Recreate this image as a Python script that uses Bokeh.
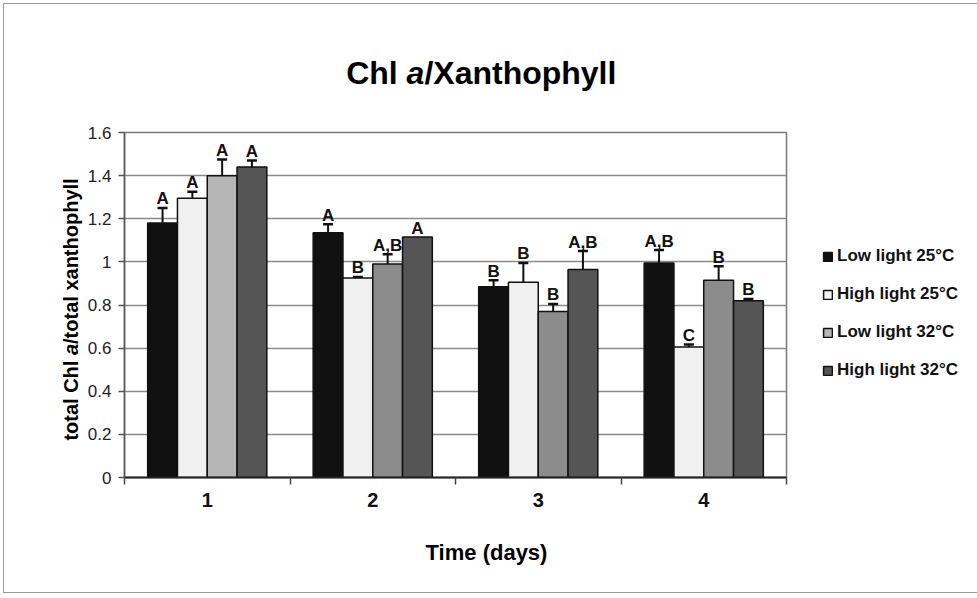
import numpy as np
from bokeh.plotting import figure
from bokeh.models import (ColumnDataSource, FixedTicker, NumeralTickFormatter, Whisker,
                          TeeHead, Label, Legend, LegendItem)
from bokeh.core.properties import value
from bokeh.embed import file_html
from bokeh.resources import INLINE

# ---------------- data ----------------
days = [1, 2, 3, 4]
day_labels = ["1", "2", "3", "4"]
series = ["Low light 25°C", "High light 25°C", "Low light 32°C", "High light 32°C"]

ll25 = [1.18, 1.135, 0.885, 0.995]
hl25 = [1.295, 0.925, 0.905, 0.605]
ll32 = [1.40, 0.99, 0.77, 0.915]
hl32 = [1.44, 1.115, 0.965, 0.82]

ll25_err = [0.07, 0.04, 0.03, 0.06]
hl25_err = [0.03, 0.005, 0.09, 0.012]
ll32_err = [0.075, 0.045, 0.035, 0.065]
hl32_err = [0.03, 0.0, 0.085, 0.008]

ll25_sig = ["A", "A", "B", "A,B"]
hl25_sig = ["A", "B", "B", "C"]
ll32_sig = ["A", "A,B", "B", "B"]
hl32_sig = ["A", "A", "A,B", "B"]

y_ticks = [0, 0.2, 0.4, 0.6, 0.8, 1.0, 1.2, 1.4, 1.6]

# ---------------- styling ----------------
FONT = "Liberation Sans"
colors = ["#111111", "#f0f0f0", "#8c8c8c", "#555555"]
bar_colors = [[c] * 4 for c in colors]
bar_colors[2][0] = "#b6b6b6"   # first Low light 32°C bar is lighter in the original
offsets = [-0.27, -0.09, 0.09, 0.27]
bar_w = 0.18

values = [ll25, hl25, ll32, hl32]
errs = [ll25_err, hl25_err, ll32_err, hl32_err]
sigs = [ll25_sig, hl25_sig, ll32_sig, hl32_sig]

FRAME_L, FRAME_B, FW, FH = 124, 477, 662, 345
p = figure(output_backend="svg", toolbar_location=None,
           frame_width=FW, frame_height=FH,
           min_border_left=120, min_border_right=186, min_border_top=128, min_border_bottom=115,
           x_range=(0.5, 4.5), y_range=(0, 1.6))
p.background_fill_color = "white"
p.border_fill_color = "white"
p.outline_line_color = "#7a7a7a"
p.outline_line_width = 1.5

# grid
p.xgrid.grid_line_color = None
p.ygrid.ticker = FixedTicker(ticks=y_ticks)
p.ygrid.grid_line_color = "#8a8a8a"
p.ygrid.grid_line_width = 1.5

# y axis
p.yaxis.ticker = FixedTicker(ticks=y_ticks)
p.yaxis.formatter = NumeralTickFormatter(format="0.[0]")
p.yaxis.major_label_text_font = FONT
p.yaxis.major_label_text_font_size = "17px"
p.yaxis.major_label_text_color = "#222222"
p.yaxis.major_tick_out = 6
p.yaxis.major_tick_in = 0
p.yaxis.minor_tick_line_color = None
p.yaxis.major_label_standoff = 7
p.yaxis.axis_line_color = "#555555"
p.yaxis.axis_line_width = 1.5
p.yaxis.major_tick_line_color = "#555555"
p.yaxis.major_tick_line_width = 1.5

# x axis: labels at day centres, ticks at group boundaries (minor ticks)
p.xaxis.ticker = FixedTicker(ticks=days, minor_ticks=[d - 0.5 for d in days] + [days[-1] + 0.5])
p.xaxis.major_label_overrides = {d: l for d, l in zip(days, day_labels)}
p.xaxis.major_tick_line_color = None
p.xaxis.major_tick_out = 0
p.xaxis.major_tick_in = 0
p.xaxis.minor_tick_out = 7
p.xaxis.minor_tick_in = 0
p.xaxis.minor_tick_line_color = "#444444"
p.xaxis.minor_tick_line_width = 1.5
p.xaxis.axis_line_color = "#222222"
p.xaxis.axis_line_width = 2
p.xaxis.major_label_text_font = FONT
p.xaxis.major_label_text_font_size = "20px"
p.xaxis.major_label_text_font_style = "bold"
p.xaxis.major_label_text_color = "#111111"
p.xaxis.major_label_standoff = 8

legend_items = []
for i in range(4):
    xs = [d + offsets[i] for d in days]
    src = ColumnDataSource(dict(x=xs, top=values[i], color=bar_colors[i],
                                upper=[v + e for v, e in zip(values[i], errs[i])],
                                sig=sigs[i]))
    r = p.vbar(x="x", top="top", width=bar_w, source=src, fill_color="color",
               line_color="#111111", line_width=1.5)
    legend_items.append(LegendItem(label=series[i], renderers=[r]))
    keep = [j for j in range(4) if errs[i][j] > 0]
    esrc = ColumnDataSource(dict(x=[xs[j] for j in keep],
                                 lower=[values[i][j] for j in keep],
                                 upper=[values[i][j] + errs[i][j] for j in keep]))
    w = Whisker(base="x", lower="lower", upper="upper", source=esrc,
                line_color="#111111", line_width=2,
                upper_head=TeeHead(size=10, line_color="#111111", line_width=2.5),
                lower_head=None)
    p.add_layout(w)
    p.text(x="x", y="upper", text="sig", source=src, text_align="center",
           text_baseline="alphabetic", y_offset=-9,
           text_font=value(FONT), text_font_size="17px", text_font_style="bold",
           text_color="#111111")

legend = Legend(items=legend_items, location=(36, 97), orientation="vertical",
                background_fill_alpha=0, border_line_color=None,
                label_text_font=FONT, label_text_font_size="17px",
                label_text_font_style="bold", label_text_color="#111111",
                glyph_width=11, glyph_height=11, label_standoff=4,
                spacing=18, label_height=20, padding=0, margin=0)
p.add_layout(legend, "right")


# helpers converting picture pixel positions to data positions for text placement
def fx(px):
    return 0.5 + (px - FRAME_L) / FW * 4.0


def fy(py):
    return (FRAME_B - py) / FH * 1.6


def add_text(place, txt, x, y, size, style="bold", align="left", angle=0.0):
    p.add_layout(Label(x=x, y=y, text=txt, text_font=FONT, text_font_size=f"{size}px",
                       text_font_style=style, text_align=align, text_baseline="alphabetic",
                       text_color="#000000", angle=angle), place)


# title "Chl a/Xanthophyll" (a italic)
TS = 32
a_half = 0.556 * TS / 2
a_cx, t_base = 415, 72
add_text("above", "Chl ", fx(a_cx - a_half), fy(t_base), TS, "bold", "right")
add_text("above", "a", fx(a_cx), fy(t_base), TS, "bold italic", "center")
add_text("above", "/Xanthophyll", fx(a_cx + a_half), fy(t_base), TS, "bold", "left")

# y axis title "total Chl a/total xanthophyll" (a italic), rotated
YS = 20
ya_half = 0.556 * YS / 2
ya_cy, y_base = 349, 70
add_text("left", "total Chl ", fx(y_base), fy(ya_cy + ya_half), YS, "bold", "right", np.pi / 2)
add_text("left", "a", fx(y_base), fy(ya_cy), YS, "bold italic", "center", np.pi / 2)
add_text("left", "/total xanthophyll", fx(y_base), fy(ya_cy - ya_half), YS, "bold", "left", np.pi / 2)

# x axis title
add_text("below", "Time (days)", fx(486), fy(552), 22, "bold", "center")

p.styles = {"border": "1px solid #9a9a9a", "margin-left": "3px", "margin-top": "3px"}

open("out.html", "w").write(file_html(p, INLINE))
